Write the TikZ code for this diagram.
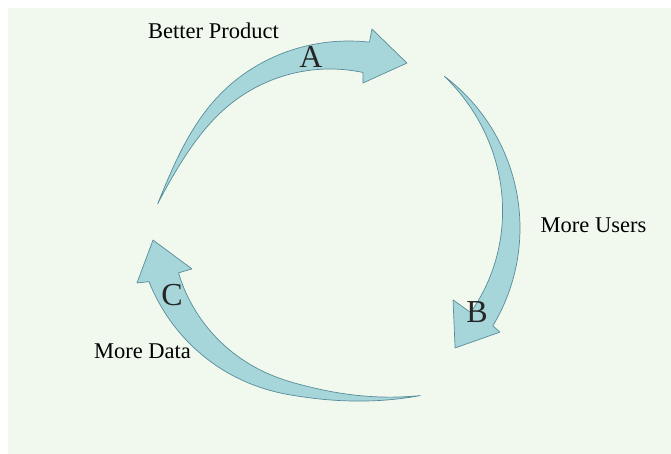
\documentclass[tikz,border=0pt]{standalone}
\usepackage{fontspec}
\setmainfont{Liberation Serif}
\definecolor{bggreen}{RGB}{241,249,239}
\definecolor{arrowfill}{RGB}{166,214,218}
\definecolor{arrowline}{RGB}{88,140,152}
\tikzset{
  cyclearrow/.style={fill=arrowfill, draw=arrowline, line width=0.7pt, line join=round},
  caption/.style={anchor=base, inner sep=0pt, font=\fontsize{22.5}{26}\selectfont},
  letter/.style={anchor=base, inner sep=0pt, font=\fontsize{32}{36}\selectfont, text=black!85},
  declare function={
    rinA(\t)=159+15*(max(0,(\t-130)/42))^3;
    routA(\t)=rinA(\t)+31*(172-\t)/94;
    routB(\t)=190;
    rinB(\t)=190-26*((53-\t)/84)*(1.3-0.3*((53-\t)/84));
    uC(\t)=max(0,(262-\t)/66);
    routC(\t)=171+20.7*uC(\t)*uC(\t)/(uC(\t)+0.15)+19*(max(0,(\t-262)/36))^2;
    rinC(\t)=routC(\t)-31*(298.3-\t)/102.3;
  }
}
\begin{document}
\begin{tikzpicture}[x=1pt,y=-1pt]
\useasboundingbox (0,0) rectangle (671,454);
\fill[white] (0,0) rectangle (671,454);
\fill[bggreen] (8,8) rectangle (671,454);

% Arrow A (Better Product)
\filldraw[cyclearrow]
  plot[domain=172:78, samples=70, variable=\t] ({330+routA(\t)*cos(\t)},{228-routA(\t)*sin(\t)})
  -- ({330+203.4*cos(78.1)},{228-203.4*sin(78.1)})
  -- ({330+182*cos(65)},{228-182*sin(65)})
  -- ({330+148.7*cos(77.2)},{228-148.7*sin(77.2)})
  -- plot[domain=78:172, samples=70, variable=\t] ({330+rinA(\t)*cos(\t)},{228-rinA(\t)*sin(\t)})
  -- cycle;

% Arrow B (More Users)
\filldraw[cyclearrow]
  plot[domain=53:-31, samples=70, variable=\t] ({330+routB(\t)*cos(\t)},{228-routB(\t)*sin(\t)})
  -- ({330+199.3*cos(-31.5)},{228-199.3*sin(-31.5)})
  -- ({330+173.3*cos(-43.8)},{228-173.3*sin(-43.8)})
  -- ({330+142.5*cos(-30.3)},{228-142.5*sin(-30.3)})
  -- plot[domain=-31:53, samples=70, variable=\t] ({330+rinB(\t)*cos(\t)},{228-rinB(\t)*sin(\t)})
  -- cycle;

% Arrow C (More Data)
\filldraw[cyclearrow]
  plot[domain=298.3:196.5, samples=70, variable=\t] ({330+routC(\t)*cos(\t)},{228-routC(\t)*sin(\t)})
  -- ({330+200.7*cos(195.9)},{228-200.7*sin(195.9)})
  -- ({330+177.4*cos(183.9)},{228-177.4*sin(183.9)})
  -- ({330+144*cos(196.5)},{228-144*sin(196.5)})
  -- plot[domain=196.5:298.3, samples=70, variable=\t] ({330+rinC(\t)*cos(\t)},{228-rinC(\t)*sin(\t)})
  -- cycle;

\node[caption] (better) at (213.5,39) {Better Product};
\node[caption] (users) at (593.5,233) {More Users};
\node[caption] (data) at (142.5,358) {More Data};
\node[letter] (la) at (311,68) {A};
\node[letter] (lb) at (477,322) {B};
\node[letter] (lc) at (172,305) {C};
\end{tikzpicture}
\end{document}
